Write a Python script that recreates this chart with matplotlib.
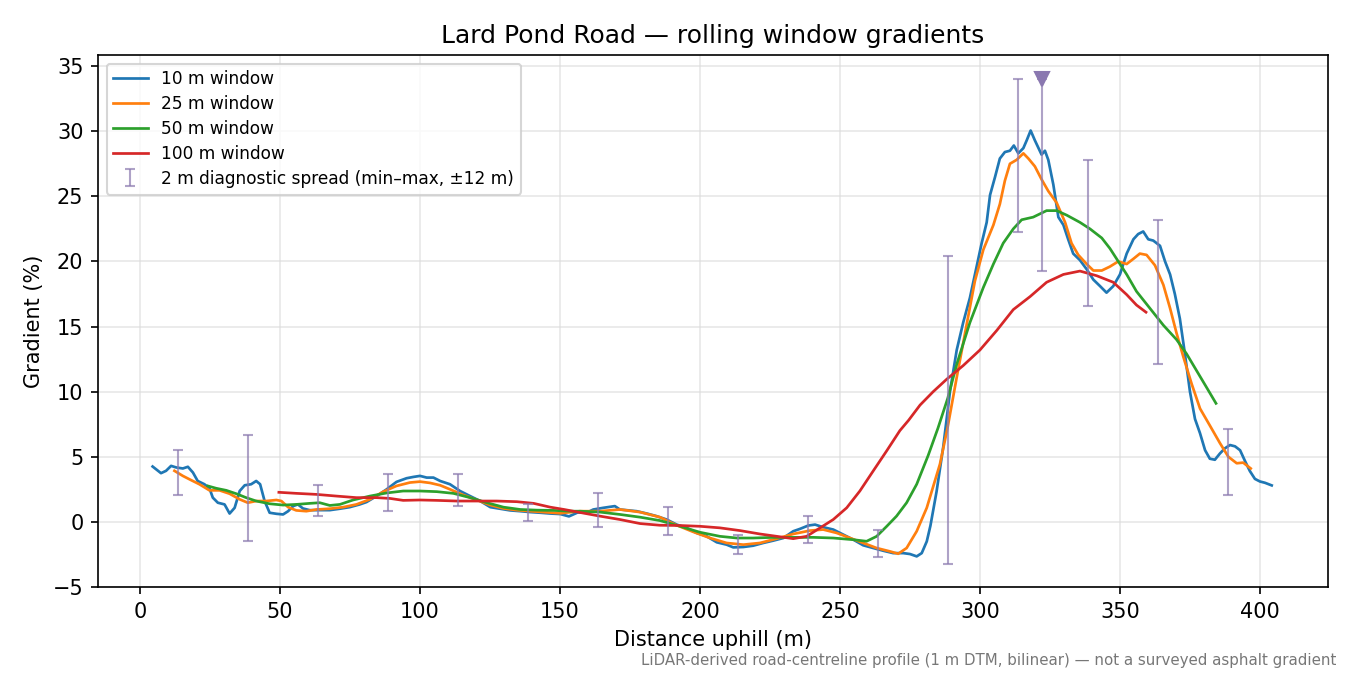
"""Lard Pond Road - rolling window gradients, re-drawn from the reference."""

import numpy as np
import matplotlib.pyplot as plt

# 10 m window
x10 = [4.5, 7.5, 9.3, 11.1, 12.9, 15.3, 17.1, 18.9, 20.6, 23.0, 24.8, 26.0, 27.8, 30.2,
       32.0, 33.8, 35.6, 37.4, 39.7, 41.5, 42.9, 44.5, 46.3, 48.7, 51.1, 52.9, 54.7, 56.4,
       58.2, 60.6, 64.2, 67.8, 71.4, 74.9, 78.5, 80.9, 84.5, 88.1, 91.6, 95.2, 97.6, 100.0,
       102.4, 104.8, 107.2, 110.7, 114.3, 117.9, 121.5, 125.1, 128.6, 132.2, 135.8, 139.4,
       143.0, 146.5, 150.1, 153.2, 156.3, 159.5, 161.9, 165.5, 169.6, 171.4, 173.8, 177.4,
       181.0, 184.5, 188.1, 191.7, 195.2, 198.8, 202.4, 206.0, 209.5, 211.9, 215.5, 219.0,
       222.6, 226.2, 229.8, 233.3, 235.7, 238.7, 241.1, 244.0, 247.6, 251.2, 254.8, 258.3,
       261.9, 265.5, 269.0, 272.6, 275.0, 277.4, 279.2, 281.0, 282.3, 284.5, 286.9, 289.3,
       291.7, 294.0, 296.4, 298.8, 300.6, 302.4, 303.6, 305.4, 307.1, 308.9, 310.7, 312.1,
       313.7, 315.5, 316.7, 318.1, 319.6, 322.0, 323.2, 324.4, 326.2, 328.0, 329.8, 331.5,
       333.3, 335.7, 338.1, 340.5, 342.9, 345.2, 347.6, 350.0, 352.4, 354.8, 356.5, 358.3,
       360.1, 361.9, 364.3, 366.1, 367.9, 369.6, 371.4, 373.2, 375.0, 376.8, 378.6, 380.4,
       382.1, 383.9, 385.7, 387.5, 389.3, 391.1, 392.9, 394.6, 396.4, 398.2, 400.0, 401.8,
       404.2]
g10 = [4.25, 3.74, 3.92, 4.30, 4.18, 4.10, 4.23, 3.79, 3.14, 2.89, 2.58, 1.86, 1.47, 1.34,
       0.64, 1.08, 2.37, 2.81, 2.89, 3.14, 2.89, 1.60, 0.70, 0.62, 0.57, 0.82, 1.21, 1.34,
       1.03, 0.90, 0.90, 0.90, 1.01, 1.13, 1.34, 1.52, 1.98, 2.50, 3.07, 3.35, 3.45, 3.53,
       3.40, 3.40, 3.14, 2.89, 2.37, 1.98, 1.60, 1.13, 1.01, 0.88, 0.82, 0.75,
       0.70, 0.64, 0.60, 0.42, 0.72, 0.70, 0.95, 1.08, 1.21, 0.95, 0.90, 0.82,
       0.64, 0.44, 0.18, -0.21, -0.46, -0.85, -1.11, -1.57, -1.75, -1.96, -1.93, -1.83,
       -1.62, -1.44, -1.24, -0.72, -0.54, -0.28, -0.21, -0.41, -0.59, -0.98, -1.37, -1.80,
       -2.01, -2.22, -2.40, -2.40, -2.47, -2.65, -2.40, -1.50, -0.30, 2.33, 5.78, 10.03,
       13.2, 15.3, 17.2, 19.6, 21.4, 23.0, 25.1, 26.5, 27.9, 28.4, 28.5, 28.9,
       28.3, 28.7, 29.3, 30.05, 29.3, 28.2, 28.5, 27.8, 25.9, 23.4, 22.8, 21.7,
       20.6, 20.1, 19.4, 18.6, 18.1, 17.6, 18.1, 19.0, 20.6, 21.7, 22.1, 22.3,
       21.7, 21.6, 21.2, 20.0, 19.0, 17.5, 15.6, 12.9, 10.0, 7.9, 6.8, 5.5,
       4.85, 4.77, 5.25, 5.65, 5.9, 5.8, 5.5, 4.7, 3.9, 3.3, 3.1, 3.0,
       2.8]

# 25 m window
x25 = [12.3, 15.3, 18.3, 21.2, 24.8, 28.4, 32.0, 35.6, 38.5, 41.5, 45.1, 48.7, 50.5, 52.9,
       55.8, 59.4, 63.0, 67.8, 72.6, 77.3, 82.1, 86.9, 91.6, 96.4, 100.0, 103.6, 107.2,
       110.7, 115.5, 120.3, 125.1, 129.8, 134.6, 139.4, 144.2, 150.1, 157.1, 164.3, 171.4,
       178.6, 185.7, 191.7, 197.6, 203.6, 209.5, 215.5, 221.4, 227.4, 233.3, 239.3, 244.0,
       248.8, 253.6, 258.3, 263.1, 267.9, 270.8, 273.8, 277.4, 281.0, 285.7, 288.4, 291.7,
       295.2, 298.2, 301.2, 304.8, 307.1, 308.9, 310.7, 313.1, 315.5, 317.3, 319.6, 322.0,
       324.4, 327.4, 330.4, 332.7, 335.1, 338.1, 340.5, 343.5, 346.4, 349.4, 352.4, 354.8,
       357.1, 359.5, 362.5, 365.5, 367.9, 370.2, 372.6, 375.6, 378.6, 382.1, 385.7, 388.7,
       391.7, 394.0, 396.7]
g25 = [3.92, 3.53, 3.20, 2.89, 2.42, 2.42, 2.16, 1.73, 1.47, 1.60, 1.60, 1.68, 1.60, 1.13,
       0.88, 0.82, 0.95, 1.01, 1.13, 1.34, 1.73, 2.32, 2.76, 3.02, 3.09, 2.99, 2.81,
       2.50, 2.06, 1.68, 1.29, 1.03, 0.90, 0.82, 0.75, 0.66, 0.82, 0.82, 0.95,
       0.75, 0.36, -0.26, -0.77, -1.24, -1.62, -1.75, -1.62, -1.29, -0.93, -0.67, -0.59,
       -0.85, -1.24, -1.62, -2.01, -2.27, -2.45, -2.01, -0.72, 1.08, 4.43, 7.2, 11.1,
       15.1, 18.5, 20.9, 22.8, 24.4, 26.2, 27.5, 27.8, 28.3, 27.9, 27.3, 26.3,
       25.4, 24.5, 23.0, 21.4, 20.5, 19.8, 19.3, 19.3, 19.6, 20.0, 19.8, 20.2,
       20.6, 20.5, 19.7, 18.2, 16.4, 14.5, 12.7, 10.6, 8.7, 7.4, 6.05, 5.0,
       4.5, 4.55, 4.1]

# 50 m window
x50 = [24.2, 27.2, 30.8, 34.4, 37.9, 41.5, 46.3, 51.1, 55.8, 60.6, 64.2, 67.8, 71.4, 76.1,
       82.1, 88.1, 94.0, 100.0, 106.0, 111.9, 117.9, 123.9, 129.8, 135.8, 141.8, 147.7,
       153.7, 157.1, 164.3, 171.4, 178.6, 185.7, 192.9, 200.0, 207.1, 213.1, 219.0, 226.2,
       233.3, 240.5, 247.6, 254.8, 259.5, 263.1, 266.7, 270.2, 273.8, 277.4, 281.5, 285.0,
       288.5, 291.7, 296.4, 301.2, 304.8, 308.3, 311.9, 314.9, 319.0, 323.8, 327.4, 331.0,
       335.7, 339.3, 343.5, 346.4, 348.8, 352.4, 355.9, 360.7, 365.5, 370.2, 373.8, 377.4,
       381.0, 384.3]
g50 = [2.76, 2.58, 2.42, 2.16, 1.86, 1.60, 1.39, 1.29, 1.34, 1.42, 1.47, 1.26, 1.34, 1.68,
       1.98, 2.22, 2.37, 2.37, 2.32, 2.19, 1.86, 1.47, 1.13, 0.95, 0.90, 0.88,
       0.82, 0.82, 0.75, 0.57, 0.36, 0.10, -0.34, -0.80, -1.11, -1.24, -1.24, -1.19,
       -1.19, -1.19, -1.24, -1.37, -1.49, -1.11, -0.34, 0.44, 1.47, 2.89, 5.1, 7.2,
       9.5, 12.1, 15.3, 18.0, 19.8, 21.4, 22.5, 23.2, 23.4, 23.9, 23.9, 23.55,
       23.0, 22.5, 21.8, 21.0, 20.2, 19.0, 17.7, 16.4, 15.1, 14.0, 12.9, 11.6,
       10.3, 9.1]

# 100 m window
x100 = [49.6, 55.8, 63.0, 70.2, 77.3, 84.5, 89.3, 94.0, 100.0, 106.0, 113.1, 120.3, 127.4,
        134.6, 140.6, 146.5, 151.5, 157.2, 164.3, 171.4, 178.6, 185.7, 192.9, 200.0, 207.1,
        214.3, 221.4, 227.4, 233.3, 238.1, 242.9, 247.6, 252.4, 257.1, 261.9, 266.7, 271.4,
        274.5, 278.6, 283.3, 288.1, 294.0, 300.0, 306.0, 311.9, 317.9, 323.8, 329.8, 335.7,
        341.7, 347.6, 352.4, 355.9, 359.3]
g100 = [2.27, 2.19, 2.11, 1.98, 1.86, 1.86, 1.80, 1.65, 1.68, 1.65, 1.60, 1.60, 1.60,
        1.55, 1.42, 1.13, 0.95, 0.72, 0.44, 0.18, -0.13, -0.26, -0.28, -0.34, -0.46,
        -0.67, -0.93, -1.11, -1.29, -1.11, -0.46, 0.18, 1.08, 2.37, 3.92, 5.46, 7.01,
        7.8, 8.97, 10.0, 10.95, 12.0, 13.2, 14.7, 16.3, 17.3, 18.4, 19.0, 19.26,
        18.9, 18.4, 17.45, 16.65, 16.1]

# 2 m diagnostic spread (min / max within +-12 m)
spread_x = [13.6, 38.6, 63.6, 88.6, 113.6, 138.6, 163.6, 188.6, 213.6, 238.6, 263.6,
            288.6, 313.6, 322.3, 338.6, 363.6, 388.6]
spread_lo = [2.09, -1.45, 0.45, 0.86, 1.22, 0.06, -0.38, -1.0, -2.45, -1.63, -2.69,
             -3.25, 22.28, 19.26, 16.58, 12.15, 2.10]
spread_hi = [5.54, 6.64, 2.86, 3.71, 3.71, 1.40, 2.24, 1.14, -1.04, 0.45, -0.62,
             20.4, 34.03, 34.03, 27.8, 23.16, 7.14]
peak_x, peak_g = 322.3, 34.03

fig = plt.figure(figsize=(9, 4.5), dpi=150)
ax = fig.add_axes([0.0726, 0.1304, 0.9111, 0.7881])

ax.plot(x10, g10, color="tab:blue", lw=1.3, label="10 m window")
ax.plot(x25, g25, color="tab:orange", lw=1.3, label="25 m window")
ax.plot(x50, g50, color="tab:green", lw=1.3, label="50 m window")
ax.plot(x100, g100, color="tab:red", lw=1.3, label="100 m window")

lo = np.array(spread_lo)
hi = np.array(spread_hi)
mid = (lo + hi) / 2
ax.errorbar(spread_x, mid, yerr=[mid - lo, hi - mid], fmt="none", ecolor="#8c7bb0",
            alpha=0.7, elinewidth=1.0, capsize=2.5, capthick=1.0,
            label="2 m diagnostic spread (min\u2013max, \u00b112 m)")
ax.plot([peak_x], [peak_g], marker="v", color="#8a78b0", markersize=7, ls="none")

ax.set_xlim(-15, 424.3)
ax.set_ylim(-5, 35.85)
ax.grid(True, color="#dddddd", alpha=0.7, lw=0.8)
ax.set_xlabel("Distance uphill (m)")
ax.set_ylabel("Gradient (%)")
ax.set_title("Lard Pond Road \u2014 rolling window gradients")
ax.legend(loc="upper left", fontsize=8.2, labelspacing=0.4)

fig.text(0.99, 0.022, "LiDAR-derived road-centreline profile (1 m DTM, bilinear) "
         "\u2014 not a surveyed asphalt gradient", ha="right", va="center",
         fontsize=7.2, color="#777777")

fig.savefig("out.png", dpi=150)
